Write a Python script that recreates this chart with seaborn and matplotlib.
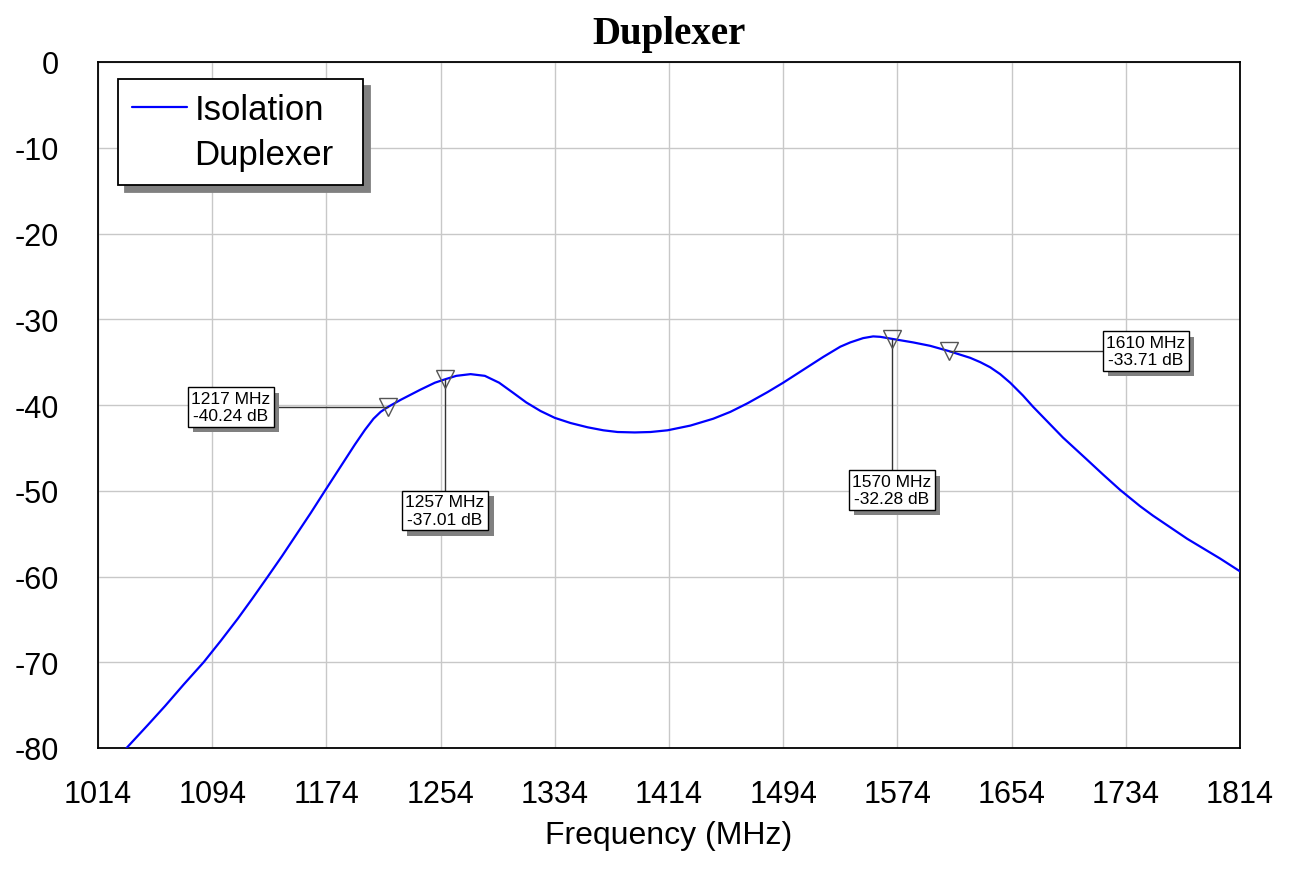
import matplotlib
matplotlib.use("Agg")
import matplotlib.pyplot as plt
import matplotlib.patheffects as pe
from matplotlib.lines import Line2D
import seaborn as sns
import pandas as pd

# ---- data ----
freq_mhz = [1034, 1049, 1061, 1074, 1088, 1100, 1112, 1122, 1133, 1143, 1153, 1163,
            1173, 1180, 1187, 1194, 1201, 1207, 1212, 1217, 1226, 1240, 1250, 1257,
            1265, 1275, 1285, 1295, 1305, 1314, 1324, 1334, 1345, 1357, 1368, 1378,
            1390, 1401, 1413, 1429, 1445, 1457, 1469, 1483, 1494, 1508, 1522, 1534,
            1541, 1550, 1557, 1562, 1570, 1585, 1597, 1610, 1625, 1632, 1639, 1646,
            1653, 1662, 1669, 1683, 1690, 1707, 1718, 1730, 1744, 1753, 1777, 1800,
            1814]
isolation_db = [-80.0, -77.3, -75.1, -72.6, -70.0, -67.5, -64.9, -62.6, -60.0, -57.6,
                -55.1, -52.6, -50.0, -48.2, -46.4, -44.6, -42.9, -41.6, -40.8, -40.24,
                -39.4, -38.2, -37.4, -37.01, -36.6, -36.4, -36.6, -37.4, -38.6, -39.7,
                -40.7, -41.5, -42.1, -42.6, -42.95, -43.15, -43.2, -43.15, -42.95, -42.4,
                -41.6, -40.8, -39.8, -38.5, -37.4, -35.9, -34.4, -33.2, -32.7, -32.2,
                -32.0, -32.05, -32.28, -32.7, -33.1, -33.71, -34.5, -35.0, -35.6, -36.4,
                -37.4, -38.9, -40.2, -42.6, -43.8, -46.4, -48.1, -49.9, -51.8, -52.9,
                -55.6, -57.9, -59.4]

marker_freq = [1217, 1257, 1570, 1610]
marker_db = [-40.24, -37.01, -32.28, -33.71]
marker_text = ["1217 MHz\n-40.24 dB", "1257 MHz\n-37.01 dB",
               "1570 MHz\n-32.28 dB", "1610 MHz\n-33.71 dB"]
# label box centres (x in MHz, y in dB)
label_pos = [(1107, -40.24), (1257, -52.3), (1570, -49.9), (1748, -33.71)]

x_ticks = [1014, 1094, 1174, 1254, 1334, 1414, 1494, 1574, 1654, 1734, 1814]
y_ticks = [0, -10, -20, -30, -40, -50, -60, -70, -80]

title = "Duplexer"
x_label = "Frequency (MHz)"
series_name = "Isolation"
doc_name = "Duplexer"

df = pd.DataFrame({"freq": freq_mhz, "db": isolation_db})

sns.set_style("white")
plt.rcParams["font.family"] = ["Liberation Sans", "DejaVu Sans"]
plt.rcParams["axes.unicode_minus"] = False
plt.rcParams["text.color"] = "black"
plt.rcParams["axes.labelcolor"] = "black"
plt.rcParams["xtick.color"] = "black"
plt.rcParams["ytick.color"] = "black"

fig = plt.figure(figsize=(12.93, 8.70), dpi=100)
ax = fig.add_axes([98 / 1293, 1 - 749 / 870, 1142 / 1293, 686 / 870])

sns.lineplot(data=df, x="freq", y="db", color="#0000ff", linewidth=1.6, ax=ax,
             zorder=3, legend=False)

ax.set_xlim(1014, 1814)
ax.set_ylim(-80, 0)
ax.set_xticks(x_ticks)
ax.set_yticks(y_ticks)
ax.grid(True, color="#c8c8c8", linewidth=1.0)
ax.set_axisbelow(True)
ax.tick_params(axis="x", length=0, pad=22, labelsize=22, colors="black")
ax.tick_params(axis="y", length=0, pad=28, labelsize=22, colors="black")
for s in ax.spines.values():
    s.set_visible(True)
    s.set_color("black")
    s.set_linewidth(1.3)

ax.set_xlabel(x_label, fontsize=23, labelpad=8, color="black")
ax.set_ylabel("")
ax.set_title(title, fontsize=28, fontweight="bold", family="Liberation Serif",
             pad=14, color="black")

# markers with leader lines and label boxes
for f, d, txt, (lx, ly) in zip(marker_freq, marker_db, marker_text, label_pos):
    ax.plot([f, lx], [d, ly], color="#333333", linewidth=1.0, zorder=4)
    ax.plot([f], [d], marker="v", markersize=13, markerfacecolor="none",
            markeredgecolor="#555555", markeredgewidth=1.0, zorder=5)
    t = ax.text(lx, ly, txt, ha="center", va="center", fontsize=12.5, linespacing=1.2,
                zorder=6, color="black",
                bbox=dict(boxstyle="square,pad=0.2", fc="white", ec="black", lw=1.0))
    t.get_bbox_patch().set_path_effects([
        pe.SimplePatchShadow(offset=(4, -4), shadow_rgbFace="#808080", alpha=1.0),
        pe.Normal()])

handles = [Line2D([], [], color="#0000ff", linewidth=1.6),
           Line2D([], [], color="none")]
leg = ax.legend(handles, [series_name, doc_name], loc="upper left",
                bbox_to_anchor=(0.0175, 0.5, 0.2145, 0.4752), mode="expand",
                borderaxespad=0, fontsize=25, frameon=True, fancybox=False,
                framealpha=1, edgecolor="black", borderpad=0.4, handlelength=1.6,
                handletextpad=0.2, labelspacing=0.35,
                shadow={"ox": 5, "oy": -5, "color": "#808080", "alpha": 1.0})
leg.get_frame().set_linewidth(1.3)
for txt in leg.get_texts():
    txt.set_color("black")
leg.set_zorder(10)

fig.savefig("out.png", dpi=100)
